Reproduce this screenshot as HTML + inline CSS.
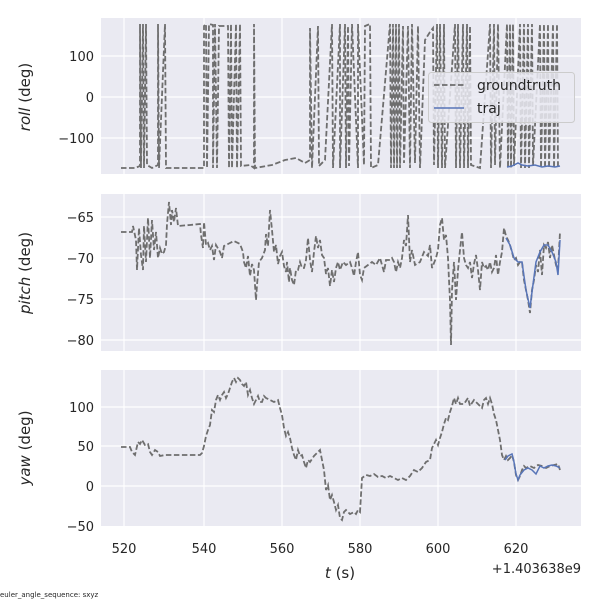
<!DOCTYPE html>
<html><head><meta charset="utf-8"><style>
html,body{margin:0;padding:0;background:#fff}
text{font-family:"DejaVu Sans","Liberation Sans",sans-serif;fill:#262626}
</style></head><body>
<svg width="600" height="600" viewBox="0 0 600 600" xmlns="http://www.w3.org/2000/svg">
<rect x="101" y="18" width="480" height="156" fill="#eaeaf2"/>
<rect x="101" y="194" width="480" height="157" fill="#eaeaf2"/>
<rect x="101" y="370" width="480" height="156" fill="#eaeaf2"/>
<g stroke="#fff" stroke-width="1.2">
<line x1="124" y1="18" x2="124" y2="174"/><line x1="204" y1="18" x2="204" y2="174"/><line x1="282" y1="18" x2="282" y2="174"/><line x1="360" y1="18" x2="360" y2="174"/><line x1="438" y1="18" x2="438" y2="174"/><line x1="516" y1="18" x2="516" y2="174"/>
<line x1="124" y1="194" x2="124" y2="351"/><line x1="204" y1="194" x2="204" y2="351"/><line x1="282" y1="194" x2="282" y2="351"/><line x1="360" y1="194" x2="360" y2="351"/><line x1="438" y1="194" x2="438" y2="351"/><line x1="516" y1="194" x2="516" y2="351"/>
<line x1="124" y1="370" x2="124" y2="526"/><line x1="204" y1="370" x2="204" y2="526"/><line x1="282" y1="370" x2="282" y2="526"/><line x1="360" y1="370" x2="360" y2="526"/><line x1="438" y1="370" x2="438" y2="526"/><line x1="516" y1="370" x2="516" y2="526"/>
<line x1="101" y1="56" x2="581" y2="56"/><line x1="101" y1="97" x2="581" y2="97"/><line x1="101" y1="138" x2="581" y2="138"/>
<line x1="101" y1="217" x2="581" y2="217"/><line x1="101" y1="258" x2="581" y2="258"/><line x1="101" y1="299" x2="581" y2="299"/><line x1="101" y1="340" x2="581" y2="340"/>
<line x1="101" y1="407" x2="581" y2="407"/><line x1="101" y1="446" x2="581" y2="446"/><line x1="101" y1="486" x2="581" y2="486"/>
</g>
<g fill="none" stroke="#6e6e6e" stroke-width="1.8" stroke-dasharray="5.5,2.5">
<polyline points="121,168 135,168 140,166 140,24 141,168 143,24 144,168 146,24 147,165 152,168 158,165 158,24 159,168 165,24 166,168 204,168 204,26 206,24 207,168 209,24 213,25 213,168 215,24 217,168 219,26 228,26 229,168 231,24 232,168 236,24 237,168 240,24 241,166 250,165 254,168 254,24 255,168 272,165 285,160 296,158 305,163 310,160 310,28 312,168 318,26 319,166 325,160 332,24 333,168 340,24 340,168 345,24 346,168 348,26 349,166 352,24 358,168 358,24 364,165 365,26 370,24 371,168 378,165 390,24 391,168 393,24 394,168 396,24 397,168 399,24 400,168 403,26 404,163 408,26 410,168 412,24 415,163 418,26 420,168 425,40 430,32 433,28 434,165 437,24 438,168 440,24 442,168 444,24 445,168 455,24 456,168 458,24 460,168 463,24 464,168 467,24 468,168 470,26 471,165 480,168 490,24 491,168 494,24 495,165 498,24 500,168 507,24 508,168 510,24 511,168 513,24 514,166 520,24 521,168 524,24 525,168 528,24 529,168 532,24 533,166 540,24 541,168 544,24 545,168 548,24 549,168 553,24 554,168 557,24 558,168"/>
</g>
<polyline fill="none" stroke="#5875b8" stroke-width="1.5" points="507,167 512,166 518,163 522,165 528,166 535,165 542,167 548,166 555,167 560,166"/>
<polyline fill="none" stroke="#6e6e6e" stroke-width="1.8" stroke-dasharray="5.5,2.5" points="121,232 132,232 133,226 136,240 137,270 139,228 141,255 143,270 144,226 146,262 148,218 150,258 152,220 154,250 156,232 158,258 160,248 162,254 164,252 166,245 167,224 169,202 171,225 172,210 174,222 176,208 178,226 190,225 200,224 201,235 203,248 204,222 206,245 208,243 210,250 212,246 214,260 216,245 220,252 222,258 224,246 228,244 234,241 240,244 243,252 244,262 246,268 248,256 250,276 252,264 254,270 256,300 257,285 259,262 262,258 265,250 266,234 268,246 270,210 272,230 274,252 276,245 278,264 280,256 282,252 284,266 286,272 287,262 289,282 290,268 292,280 294,285 296,270 298,270 300,262 302,268 304,268 306,260 308,238 310,260 312,272 314,252 316,236 318,248 320,240 322,255 324,258 326,274 328,268 330,286 332,270 334,282 336,268 338,262 340,270 343,262 346,265 350,262 352,268 354,276 356,262 358,252 360,275 362,280 364,268 368,265 372,262 376,265 380,258 384,272 386,260 390,260 392,258 394,262 396,272 398,262 400,268 402,258 404,240 406,246 408,215 410,262 412,250 415,265 420,262 424,252 428,256 430,245 432,268 436,258 438,250 440,225 442,218 444,240 446,235 448,258 449,280 450,300 451,345 452,290 454,262 456,300 458,270 460,250 462,232 464,258 466,265 468,268 470,262 472,278 474,264 476,255 478,270 480,290 482,262 484,268 486,266 488,270 490,262 492,272 494,268 496,255 498,275 500,262 502,252 504,228 506,236 508,240 510,245 512,252 514,260 516,258 518,265 520,262 522,262 524,280 526,290 528,300 530,313 532,290 534,280 536,265 538,272 540,250 542,275 544,245 546,248 548,242 550,258 552,245 554,255 556,265 558,270 560,232"/>
<polyline fill="none" stroke="#5875b8" stroke-width="1.5" points="506,238 510,245 514,258 518,262 522,262 526,290 530,308 532,292 536,262 540,252 544,245 548,245 552,252 556,262 558,275 560,240"/>
<polyline fill="none" stroke="#6e6e6e" stroke-width="1.8" stroke-dasharray="5.5,2.5" points="121,447 130,447 132,452 135,455 138,442 140,444 142,440 145,445 148,444 150,452 152,455 155,450 158,452 160,456 165,455 180,455 200,455 202,453 204,446 206,436 208,430 210,425 212,410 214,412 216,400 218,395 220,400 222,395 224,392 226,398 228,394 230,388 232,382 234,378 236,382 238,378 240,380 242,384 244,386 246,382 248,395 250,390 252,398 254,404 256,400 258,396 260,402 262,402 264,396 266,398 270,400 274,402 278,400 280,408 282,415 284,428 286,436 288,432 290,438 292,448 294,455 296,460 298,450 300,456 302,455 304,462 306,468 308,460 310,462 314,456 318,452 320,450 322,460 324,470 326,490 328,485 330,500 332,495 334,502 336,510 338,505 340,518 342,520 344,512 346,510 350,514 354,512 356,514 358,510 360,512 362,478 366,475 370,476 374,474 378,477 382,476 386,478 390,476 394,478 398,480 402,478 406,480 410,476 414,470 418,472 422,468 426,462 430,460 432,448 434,444 436,440 438,445 440,438 442,432 444,424 446,418 448,420 450,412 452,406 454,398 456,404 458,398 460,404 464,404 468,398 470,406 474,400 478,404 482,408 484,400 486,398 488,404 490,398 492,404 494,414 496,420 498,430 500,440 502,455 504,460 506,456 508,460 510,458 512,455 514,462 516,475 518,480 520,476 522,470 524,466 526,468 530,466 534,468 538,465 542,466 546,468 550,466 554,465 558,464 560,470"/>
<polyline fill="none" stroke="#5875b8" stroke-width="1.5" points="505,460 508,456 512,454 514,462 516,474 518,480 520,475 524,470 528,468 532,470 536,474 540,466 544,468 548,466 552,465 556,466 560,468"/>
<rect x="428.5" y="72.5" width="146" height="50" rx="3" fill="#eaeaf2" fill-opacity="0.85" stroke="#cccccc"/>
<line x1="434" y1="85" x2="464" y2="85" stroke="#6e6e6e" stroke-width="1.8" stroke-dasharray="5.5,2.5"/>
<line x1="434" y1="108" x2="464" y2="108" stroke="#5875b8" stroke-width="1.5"/>
<text x="477" y="90" font-size="14">groundtruth</text>
<text x="477" y="113" font-size="14">traj</text>
<g font-size="13" text-anchor="end">
<text x="94" y="61">100</text><text x="94" y="102">0</text><text x="94" y="143">−100</text>
<text x="94" y="222">−65</text><text x="94" y="263">−70</text><text x="94" y="304">−75</text><text x="94" y="345">−80</text>
<text x="94" y="412">100</text><text x="94" y="451">50</text><text x="94" y="491">0</text><text x="94" y="531">−50</text>
</g>
<g font-size="13" text-anchor="middle">
<text x="124" y="553">520</text><text x="204" y="553">540</text><text x="282" y="553">560</text><text x="360" y="553">580</text><text x="438" y="553">600</text><text x="516" y="553">620</text>
</g>
<text x="581" y="573" font-size="13" text-anchor="end">+1.403638e9</text>
<text x="340" y="578" font-size="15" text-anchor="middle"><tspan font-style="italic">t</tspan> (s)</text>
<text transform="translate(30,97) rotate(-90)" font-size="15" text-anchor="middle"><tspan font-style="italic">roll</tspan> (deg)</text>
<text transform="translate(30,273) rotate(-90)" font-size="15" text-anchor="middle"><tspan font-style="italic">pitch</tspan> (deg)</text>
<text transform="translate(30,448) rotate(-90)" font-size="15" text-anchor="middle"><tspan font-style="italic">yaw</tspan> (deg)</text>
<text x="0" y="597" font-size="7">euler_angle_sequence: sxyz</text>
</svg>
</body></html>
